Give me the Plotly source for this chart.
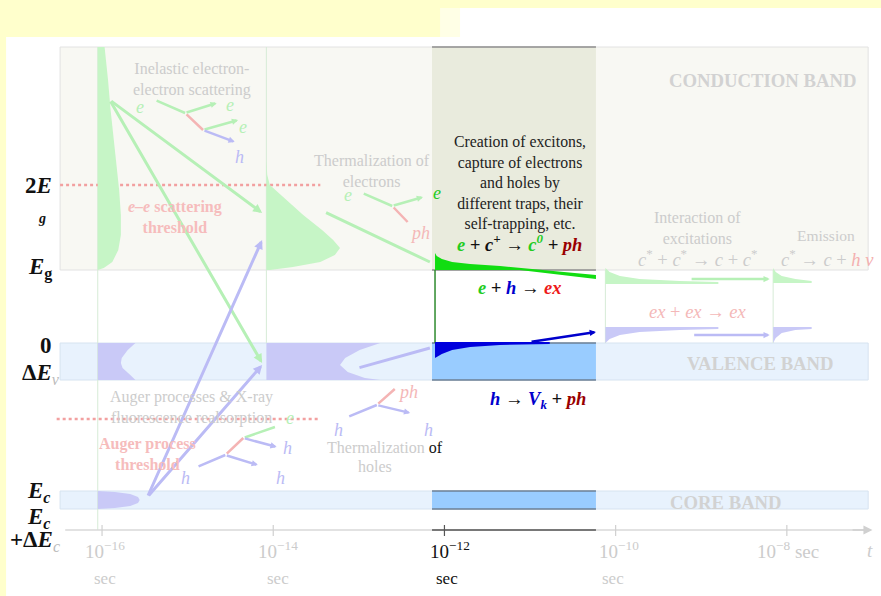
import plotly.graph_objects as go

SERIF = "Liberation Serif, Times New Roman, serif"

# ---------------- scales ----------------
# x: log10(t / s) ; y: schematic energy units, 0 = top of the valence band
T_RANGE = [-17.192, -6.90]
E_RANGE = [-253, 343]

# band levels (schematic energy units)
CB_TOP, E_G, TWO_E_G = 296, 73, 158
VB_TOP, VB_BOT = 0, -37
AUGER_THR = -76
CORE_TOP, CORE_BOT = -148, -166
T_AXIS_E = -187
BAND_T = [-16.49, -7.05]            # horizontal extent of the drawn bands
HIGHLIGHT_T = [-12.145, -10.23]     # highlighted stage (1e-12 ... 1e-10 s)
STAGE_LINES = [(-16.05, CB_TOP, T_AXIS_E), (-14.08, CB_TOP, VB_TOP),
               (-10.12, E_G, VB_TOP), (-8.16, E_G, VB_TOP)]

T_TICKS = [-16, -14, -12, -10, -8]
T_TICK_LABELS = ["10<sup>−16</sup>", "10<sup>−14</sup>", "10<sup>−12</sup>",
                 "10<sup>−10</sup>", "10<sup>−8</sup> sec"]
T_TICK_LABEL_T = [-15.965, -13.944, -11.935, -9.96, -7.986]
SEC_LABEL_T = [-15.965, -13.944, -11.97, -10.03]

# ---------------- carrier distributions ----------------
e_dist1_t = [-16.05, -15.97, -15.93, -15.90, -15.85, -15.80, -15.78, -15.78, -15.81, -15.88, -15.98, -16.05]
e_dist1_E = [296, 296, 263, 233, 193, 153, 128, 108, 93, 81, 75, 73]
e_dist2_t = [-14.08, -14.07, -14.04, -13.84, -13.65, -13.43, -13.30, -13.22, -13.28, -13.45, -13.77, -14.04, -14.08]
e_dist2_E = [183, 168, 158, 143, 128, 113, 103, 95, 88, 81, 76, 73, 73]
h_dist1_t = [-16.05, -15.61, -15.70, -15.77, -15.78, -15.76, -15.67, -15.61, -16.05]
h_dist1_E = [0, 0, -7, -15, -20, -25, -32, -37, -37]
h_dist2_t = [-14.08, -12.75, -12.99, -13.16, -13.22, -13.13, -12.93, -12.75, -14.08]
h_dist2_E = [0, 0, -7, -15, -22, -29, -35, -37, -37]
core_dist_t = [-16.05, -15.85, -15.67, -15.58, -15.56, -15.58, -15.67, -15.85, -16.05]
core_dist_E = [-148, -149, -151, -154, -157, -160, -163, -165, -166]

e_mid_t = [-12.11, -12.09, -12.03, -11.91, -11.70, -11.35, -10.23, -10.23, -11.12, -12.11]
e_mid_E = [90, 87, 84, 81, 79, 77, 68, 64, 73, 73]
h_mid_t = [-12.11, -10.77, -10.77, -11.35, -11.70, -11.91, -12.03, -12.11]
h_mid_E = [1, 1, -1, -2, -4, -7, -11, -15]

g_r1_t = [-10.12, -10.07, -9.95, -9.72, -9.25, -8.80, -8.80, -10.12]
g_r1_E = [75, 71, 67, 64, 62, 61, 59, 59]
g_r2_t = [-8.16, -8.13, -8.06, -7.90, -7.71, -7.71, -8.16]
g_r2_E = [75, 71, 67, 64, 62, 60, 60]
b_r1_t = [-10.12, -8.80, -8.80, -9.25, -9.72, -9.95, -10.07, -10.12]
b_r1_E = [16, 16, 14, 13, 11, 8, 4, 0]
b_r2_t = [-8.16, -7.71, -7.71, -7.90, -8.06, -8.13, -8.16]
b_r2_E = [16, 16, 14, 13, 10, 5, 0]

# ---------------- transitions (t0, E0, t1, E1) ----------------
LG, LB, LR, LP = "#B6F0B6", "#BBBBF5", "#F4B4B4", "#F4B8B8"
big_arrows = [(-15.91, 243, -14.13, 130, LG), (-15.91, 243, -14.13, -20, LG),
              (-15.47, -154, -14.13, 103, LB), (-15.47, -154, -14.13, -22, LB)]
side_arrows = [(-9.13, 64, -8.20, 64, LG), (-9.10, 8, -8.20, 8, LB)]
big_lines = [(-13.40, 131, -12.17, 81, LG), (-13.01, -25, -12.17, -5, LB)]
icon_lines = [(-15.38, 243, -15.03, 230, LG), (-15.03, 230, -14.82, 213, LR),
              (-12.96, 150, -12.61, 137, LG), (-12.61, 137, -12.43, 121, LR),
              (-14.89, -124, -14.56, -112, LB), (-14.56, -112, -14.35, -95, LR),
              (-14.35, -95, -13.98, -84, LG),
              (-13.13, -74, -12.79, -62, LB), (-12.79, -62, -12.58, -46, LR)]
icon_arrows = [(-15.03, 230, -14.66, 240, LG), (-14.82, 213, -14.41, 223, LG),
               (-14.82, 213, -14.45, 201, LB), (-12.61, 137, -12.25, 146, LG),
               (-14.56, -112, -14.18, -122, LB), (-14.35, -95, -13.96, -104, LB),
               (-12.79, -62, -12.40, -70, LB)]
icon_labels = [(-15.56, 236, "e", LG), (-14.51, 238, "e", LG), (-14.35, 216, "e", LG),
               (-14.39, 186, "h", LB), (-13.13, 148, "e", LG), (-12.09, 150, "e", "#22CC22"),
               (-12.29, 110, "ph", LP), (-13.80, -75, "e", LG), (-13.83, -105, "h", LB),
               (-15.03, -135, "h", LB), (-13.92, -135, "h", LB), (-12.43, -49, "ph", LP),
               (-13.24, -87, "h", LB), (-12.19, -87, "h", LB)]

fig = go.Figure()
shapes = []


def rect(x0, x1, y0, y1, fill, line=None, lw=0):
    shapes.append(dict(type="rect", xref="x", yref="y", x0=x0, x1=x1, y0=y0, y1=y1,
                       fillcolor=fill, line=dict(color=line or fill, width=lw), layer="below"))


def hline(x0, x1, y, color, w=1, dash="solid"):
    shapes.append(dict(type="line", xref="x", yref="y", x0=x0, x1=x1, y0=y, y1=y,
                       line=dict(color=color, width=w, dash=dash), layer="below"))


def vline(x, y0, y1, color, w=1):
    shapes.append(dict(type="line", xref="x", yref="y", x0=x, x1=x, y0=y0, y1=y1,
                       line=dict(color=color, width=w), layer="below"))


# page background pieces
rect(-17.121, -6.7, 306, -260, "#FFFFFF")
rect(-11.818, -6.7, 335, 306, "#FFFFFF")
rect(-12.051, -11.818, 335, 306, "#FFFFE6")

# faded bands
rect(BAND_T[0], BAND_T[1], E_G, CB_TOP, "#F8F8F3", "#E2E2E2", 1)
rect(BAND_T[0], BAND_T[1], VB_BOT, VB_TOP, "#E8F2FD", "#D6E3F0", 1)
rect(BAND_T[0], BAND_T[1], CORE_BOT, CORE_TOP, "#E8F2FD", "#D6E3F0", 1)

for x, y0, y1 in STAGE_LINES:
    vline(x, y0, y1, "#D6EBD6", 1)

# highlighted stage
h0, h1 = HIGHLIGHT_T
rect(h0, h1, E_G, CB_TOP, "#E9EBDD")
rect(h0, h1, VB_BOT, VB_TOP, "#99CCFF")
rect(h0, h1, CORE_BOT, CORE_TOP, "#99CCFF")
for y in (CB_TOP, E_G):
    hline(h0, h1, y, "#8C8C8C", 1.5)
for y in (VB_TOP, VB_BOT, CORE_TOP, CORE_BOT):
    hline(h0, h1, y, "#6C7F94", 1.5)
vline(-12.11, E_G, VB_TOP, "#2E8B2E", 1.5)

# thresholds
hline(-16.49, -13.45, TWO_E_G, "#F2A0A0", 2.5, "dot")
hline(-16.53, -13.48, AUGER_THR, "#F2A0A0", 2.5, "dot")

# time axis
hline(-16.43, -7.03, T_AXIS_E, "#D8D8D8", 1.5)
hline(h0, h1, T_AXIS_E, "#555555", 1.5)
for tt in T_TICKS:
    vline(tt, T_AXIS_E + 5, T_AXIS_E - 6, "#555555" if tt == -12 else "#D0D0D0", 1.2)


def poly(t, E, color):
    fig.add_trace(go.Scatter(x=t, y=E, mode="lines", fill="toself", fillcolor=color,
                             line=dict(width=0, color=color), hoverinfo="skip", showlegend=False))


poly(e_dist1_t, e_dist1_E, "#C6F5C6")
poly(e_dist2_t, e_dist2_E, "#C6F5C6")
poly(h_dist1_t, h_dist1_E, "#C9C9F7")
poly(h_dist2_t, h_dist2_E, "#C9C9F7")
poly(core_dist_t, core_dist_E, "#C9C9F7")
poly(g_r1_t, g_r1_E, "#C6F5C6")
poly(g_r2_t, g_r2_E, "#C6F5C6")
poly(b_r1_t, b_r1_E, "#C9C9F7")
poly(b_r2_t, b_r2_E, "#C9C9F7")
poly(e_mid_t, e_mid_E, "#11DD11")
poly(h_mid_t, h_mid_E, "#0000DD")

ann = []


def arrow(t0, E0, t1, E1, color, w=3, head=True, size=0.8):
    ann.append(dict(x=t1, y=E1, ax=t0, ay=E0, xref="x", yref="y", axref="x", ayref="y",
                    text="", showarrow=True, arrowhead=2 if head else 0, arrowsize=size,
                    arrowwidth=w, arrowcolor=color, standoff=0, startstandoff=0))


for a in big_arrows:
    arrow(*a[:4], a[4], 3, size=0.6)
for a in side_arrows:
    arrow(*a[:4], a[4], 2.5, size=0.5)
for a in big_lines:
    arrow(*a[:4], a[4], 3, head=False)
for a in icon_lines:
    arrow(*a[:4], a[4], 2.5, head=False)
for a in icon_arrows:
    arrow(*a[:4], a[4], 2.5, size=0.5)
arrow(-11.0, 1, -10.23, 11, "#0000CC", 2.5, size=0.5)
arrow(-7.25, T_AXIS_E, -7.0, T_AXIS_E, "#D0D0D0", 1.5, size=1.2)


def txt(t, E, s, size=14, color="#CCCCCC", xanchor="center"):
    ann.append(dict(x=t, y=E, xref="x", yref="y", text=s, showarrow=False, xanchor=xanchor,
                    yanchor="middle", font=dict(family=SERIF, size=size, color=color)))


for t, E, s, c in icon_labels:
    txt(t, E, "<i>%s</i>" % s, 18, c)

GRAY = "#CCCCCC"
GREEN, BLUE, DRED, RED = "#22CC22", "#0000CC", "#990000", "#EE1A1A"
txt(-14.95, 264, "Inelastic electron-<br>electron scattering", 16, GRAY)
txt(-12.85, 172, "Thermalization of<br>electrons", 16, GRAY)
txt(-15.147, 126, "<b><i>e–e</i> scattering<br>threshold</b>", 16, "#F6BCBC")
txt(-8.29, 263, "<b>CONDUCTION BAND</b>", 18.7, "#D2D2D2")
txt(-8.313, -20, "<b>VALENCE BAND</b>", 18.7, "#D2D2D2")
txt(-8.71, -159, "<b>CORE BAND</b>", 18.7, "#D2D2D2")
txt(-11.12, 160, "Creation of excitons,<br>capture of electrons<br>and holes by<br>different traps, their<br>self-trapping, etc.",
    15.8, "#222222")
txt(-11.12, 100, "<b><i><span style='color:%s'>e</span> + c<sup>+</sup> → <span style='color:%s'>c<sup>0</sup></span>"
    " + <span style='color:%s'>ph</span></i></b>" % (GREEN, GREEN, DRED), 18.5, "#111111")
txt(-11.12, 55, "<b><i><span style='color:%s'>e</span> + <span style='color:%s'>h</span> → "
    "<span style='color:%s'>ex</span></i></b>" % (GREEN, BLUE, RED), 18.5, "#111111")
txt(-10.91, -57, "<b><i><span style='color:%s'>h</span> → <span style='color:%s'>V<sub>k</sub></span> + "
    "<span style='color:%s'>ph</span></i></b>" % (BLUE, BLUE, DRED), 18.5, "#111111")
txt(-9.04, 115, "Interaction of<br>excitations", 16, GRAY)
txt(-9.04, 85, "<i>c</i><sup>*</sup> + <i>c</i><sup>*</sup> → <i>c</i> + <i>c</i><sup>*</sup>", 18.5, GRAY)
txt(-7.542, 108, "Emission", 15.5, GRAY)
txt(-7.52, 85, "<i>c</i><sup>*</sup> → <i>c</i> + <span style='color:#F4B0B0'><i>h ν</i></span>", 18.5, GRAY)
txt(-9.04, 31, "<i>ex</i> + <i>ex</i> → <i>ex</i>", 18.5, "#F4B8B8")
txt(-14.95, -64, "Auger processes &amp; X-ray<br>fluorescence realsorption", 16, GRAY)
txt(-15.474, -111, "<b>Auger process<br>threshold</b>", 16, "#F6BCBC")
txt(-12.694, -104, "Thermalization <span style='color:#111111'>of</span>", 16, GRAY)
txt(-12.811, -123, "holes", 16, GRAY)

# time axis labels
for tt, s in zip(T_TICK_LABEL_T, T_TICK_LABELS):
    txt(tt, T_AXIS_E - 20, s, 19, "#111111" if "12" in s else GRAY)
for tt in SEC_LABEL_T:
    txt(tt, T_AXIS_E - 48, "sec", 17, "#111111" if -12.2 < tt < -11.8 else GRAY)
txt(-7.028, T_AXIS_E - 20, "<i>t</i>", 19, GRAY)

# energy labels
txt(-16.56, TWO_E_G, "<b>2<i>E</i></b>", 23, "#111111", "right")
txt(-16.70, 125, "<b><i>g</i></b>", 14, "#111111")
txt(-16.56, E_G + 2, "<b><i>E</i><sub>g</sub></b>", 23, "#111111", "right")
txt(-16.56, VB_TOP - 2, "<b>0</b>", 23, "#111111", "right")
txt(-16.467, VB_BOT + 6, "<b>Δ<i>E</i></b><span style='color:#BBBBBB'><sub><i>v</i></sub></span>", 23, "#111111", "right")
txt(-16.572, CORE_TOP - 1, "<b><i>E</i><sub><i>c</i></sub></b>", 23, "#111111", "right")
txt(-16.572, CORE_TOP - 27, "<b><i>E</i><sub><i>c</i></sub></b>", 23, "#111111", "right")
txt(-16.467, CORE_TOP - 50, "<b>+Δ<i>E</i></b><span style='color:#BBBBBB'><sub><i>c</i></sub></span>", 23, "#111111", "right")

fig.update_layout(
    width=881, height=596, margin=dict(l=0, r=0, t=0, b=0),
    paper_bgcolor="#FFFFCC", plot_bgcolor="rgba(0,0,0,0)",
    xaxis=dict(range=T_RANGE, visible=False, fixedrange=True),
    yaxis=dict(range=E_RANGE, visible=False, fixedrange=True),
    shapes=shapes, annotations=ann, showlegend=False,
)
fig.write_html("out.html")
